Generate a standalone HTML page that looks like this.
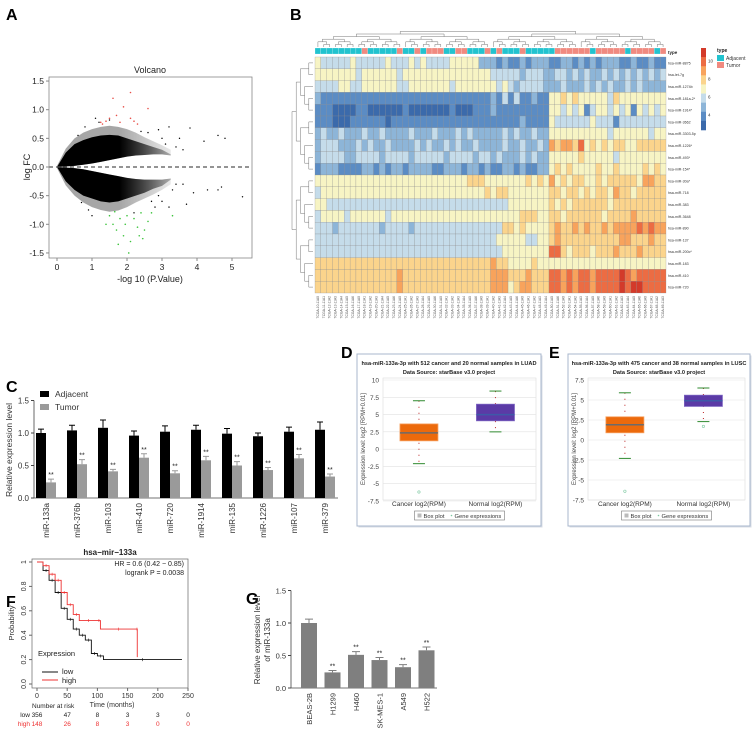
<!DOCTYPE html>
<html><head><meta charset="utf-8">
<style>
html,body{margin:0;padding:0;background:#fff;}
svg{display:block;font-family:"Liberation Sans",Arial,sans-serif;}
</style></head>
<body>
<svg id="fig" width="753" height="729" viewBox="0 0 753 729" xmlns="http://www.w3.org/2000/svg">
<defs>
<linearGradient id="fadeG" x1="0" x2="1" y1="0" y2="0">
<stop offset="0" stop-color="#000" stop-opacity="1"/>
<stop offset="0.55" stop-color="#000" stop-opacity="1"/>
<stop offset="1" stop-color="#000" stop-opacity="0.25"/>
</linearGradient>
</defs>
<g font-weight="bold" font-size="16" fill="#000">
<text x="6" y="20">A</text>
<text x="290" y="20">B</text>
<text x="6" y="392">C</text>
<text x="341" y="358">D</text>
<text x="549" y="358">E</text>
<text x="6" y="607">F</text>
<text x="246" y="604">G</text>
</g>
<g id="volcano"></g>
<g id="heat"></g>
<g id="bars"></g>
<g id="boxD"></g>
<g id="boxE"></g>
<g id="km"></g>
<g id="barsG"></g>
</svg>
<script>
// ---------- Panel A data ----------
const envX=[0,0.25,0.5,0.75,1,1.25,1.5,1.75,2,2.25,2.5,2.75,3,3.25];
const upOuter=[0,.25,.4,.47,.52,.55,.56,.55,.5,.45,.4,.35,.3,.22];
const upInner=[0,.01,.02,.04,.06,.09,.12,.15,.18,.2,.21,.22,.22,.2];
const loOuter=[0,-.25,-.4,-.5,-.55,-.6,-.62,-.6,-.55,-.5,-.45,-.38,-.33,-.22];
const loInner=[0,-.01,-.02,-.04,-.07,-.1,-.13,-.16,-.19,-.21,-.22,-.22,-.22,-.2];
const fuzzUp=[0.02,.32,.5,.6,.66,.7,.72,.7,.66,.6,.52,.45,.38,.3];
const fuzzLo=[-0.02,-.32,-.5,-.62,-.7,-.75,-.78,-.76,-.7,-.62,-.55,-.48,-.4,-.3];
const redX=[1.3,1.4,1.5,1.6,1.9,2.1,2.2,2.1,1.7,1.25,2.6,2.3,1.8];
const redY=[0.75,0.8,0.85,1.2,1.05,0.85,0.8,1.3,0.9,0.78,1.02,0.75,0.78];
const greenX=[1.5,1.6,1.7,1.8,1.9,2.0,2.1,2.2,2.3,2.4,2.5,2.6,1.75,2.05,2.45,2.7,3.3,1.4,1.95,2.35,1.65];
const greenY=[-0.85,-1.0,-1.1,-0.9,-1.2,-0.85,-1.3,-0.9,-1.05,-0.8,-1.1,-0.95,-1.35,-1.5,-1.25,-0.8,-0.85,-1.0,-1.0,-1.2,-0.78];
const blackX=[3.2,3.5,3.8,4.6,4.8,4.2,3.6,3.9,4.3,4.6,4.7,5.3,3.7,3.0,2.8,3.0,2.9,1.1,1.0,3.2,3.4,3.3,2.6,2.7,3.1,2.4,0.8,0.9,1.2,0.7,1.5,2.2,2.9,3.4,3.6,0.6];
const blackY=[0.7,0.5,0.68,0.55,0.5,0.45,-0.3,-0.45,-0.4,-0.4,-0.35,-0.52,-0.65,-0.6,-0.7,0.5,0.65,0.85,-0.85,-0.7,0.35,-0.4,0.6,-0.6,0.4,0.62,0.7,-0.75,0.78,-0.62,0.82,-0.8,-0.5,-0.3,0.3,0.55];
const volXTicks=[0,1,2,3,4,5];
const volYTicks=[-1.5,-1.0,-0.5,0.0,0.5,1.0,1.5];

// ---------- Panel B data ----------
const heatRows=["hsa-miR-8875","hsa-let-7g","hsa-miR-1274b","hsa-miR-181a-2*","hsa-miR-1914*","hsa-miR-3662","hsa-miR-3303-5p","hsa-miR-1226*","hsa-miR-493*","hsa-miR-154*","hsa-miR-30a*","hsa-miR-718","hsa-miR-383","hsa-miR-3648","hsa-miR-890","hsa-miR-137","hsa-miR-200c*","hsa-miR-183","hsa-miR-410","hsa-miR-720"];
const heatLeft=[
"5444445444445444545444455555333232232333",
"5555555455555545555555555555554444434443",
"4444554455555544555555545555555454344443",
"3222222222222222222222222222223242422322",
"2221111221111112111111121112223222222222",
"2221112222221222222222222222222222232222",
"3433433343343333433343334343333343433433",
"3444333434334333343433434334333343343343",
"3444433444434444344444344443443433343433",
"2333222233232332333322333233232233232233",
"5555555555555555555555555566655555556565",
"4555555555555555555555555555565665555555",
"5544444444444444444444444444444445555555",
"4555545555554555555555555555555555566655",
"4443444444434444344444444444444466565555",
"4444444444444444444444444444444555554455",
"4444444444444444444444444444444455555555",
"6666666666666666666666666666667665555655",
"6666666666666676666666666666667776667666",
"6666666666666676666666666666667775677666"];
const heatRight=[
"22332323233322322322",
"34434343343434343434",
"33433343434334343333",
"55656555554655555555",
"55454524554545254545",
"54444445444244444444",
"55555555554555555455",
"76776856565665566666",
"55555655555455555555",
"56565555655655556565",
"75656655656666657766",
"66566565665766566666",
"65656666665666666666",
"66566666656666766666",
"67667676676777787877",
"67666666666677666766",
"88656665666766676666",
"55555555555555555555",
"88787887888898788888",
"88787887888898998888"];
const heatType="AAAAAAAATAAAAATAATATTTAATTAAATATAAATAAAAATTTTTTATTTTTATTTTAT";
const heatTicks=[4,6,8,10];

// ---------- Panel C data ----------
const cCats=["miR-133a","miR-376b","miR-103","miR-410","miR-720","miR-1914","miR-135","miR-1226","miR-107","miR-379"];
const cAdj=[1.0,1.04,1.08,0.96,1.02,1.05,0.99,0.95,1.02,1.05];
const cAdjErr=[0.06,0.08,0.12,0.07,0.09,0.07,0.08,0.05,0.07,0.12];
const cTum=[0.24,0.52,0.41,0.62,0.38,0.58,0.50,0.43,0.61,0.33];
const cTumErr=[0.05,0.07,0.03,0.06,0.04,0.06,0.06,0.04,0.06,0.04];
const cTicks=[0.0,0.5,1.0,1.5];

// ---------- Panel D/E data ----------
const boxCats=["Cancer log2(RPM)","Normal log2(RPM)"];
const dStats=[[-2.1,1.2,2.35,3.65,7.0],[2.5,4.1,5.0,6.5,8.4]];
const dOut=[[-6.2],[]];
const dTicks=[10,7.5,5,2.5,0,-2.5,-5,-7.5];
const eStats=[[-2.3,0.9,1.9,2.9,5.9],[2.3,4.2,4.9,5.6,6.5]];
const eOut=[[-6.4],[1.7]];
const eTicks=[7.5,5,2.5,0,-2.5,-5,-7.5];

// ---------- Panel F data ----------
const lowT=[0,10,20,30,40,50,60,70,80,90,100,110,240];
const lowS=[1,0.93,0.85,0.75,0.62,0.53,0.45,0.40,0.36,0.25,0.23,0.20,0.20];
const highT=[0,10,20,30,40,50,60,70,100,105,165,166];
const highS=[1,0.97,0.90,0.85,0.75,0.65,0.57,0.52,0.52,0.45,0.45,0.22];
const kmXTicks=[0,50,100,150,200,250];
const kmYTicks=[0.0,0.2,0.4,0.6,0.8,1.0];
const riskLow=["356","47","8","3","3","0"];
const riskHigh=["148","26","8","3","0","0"];

// ---------- Panel G data ----------
const gCats=["BEAS-2B","H1299","H460","SK-MES-1","A549","H522"];
const gVals=[1.0,0.24,0.51,0.43,0.32,0.58];
const gErr=[0.06,0.03,0.05,0.04,0.04,0.05];
const gSig=["","**","**","**","**","**"];
const gTicks=[0.0,0.5,1.0,1.5];

const NS="http://www.w3.org/2000/svg";
function mk(parent,tag,attrs,txt){const e=document.createElementNS(NS,tag);for(const k in attrs)e.setAttribute(k,attrs[k]);if(txt!==undefined)e.textContent=txt;parent.appendChild(e);return e;}

// ===== Panel A =====
(function(){
const g=document.getElementById('volcano');
const X=v=>57+v*35, Y=v=>167-v*57.3;
mk(g,'text',{x:150,y:73,'font-size':9,'text-anchor':'middle',fill:'#222'},'Volcano');
function band(outer,inner){
  let p='';
  envX.forEach((x,i)=>{p+=(i?'L':'M')+X(x)+','+Y(outer[i]);});
  for(let i=envX.length-1;i>=0;i--)p+='L'+X(envX[i])+','+Y(inner[i]);
  return p+'Z';
}
const fz=mk(g,'path',{d:band(fuzzUp,upInner)+band(fuzzLo,loInner),fill:'url(#fadeG)',opacity:0.35});


const cloud=mk(g,'path',{d:band(upOuter,upInner)+band(loOuter,loInner),fill:'url(#fadeG)'});


blackX.forEach((x,i)=>{const c=mk(g,'circle',{cx:X(x),cy:Y(blackY[i]),r:0.7,fill:'#000'});

});
redX.forEach((x,i)=>{const c=mk(g,'circle',{cx:X(x),cy:Y(redY[i]),r:0.8,fill:'#e8504a'});

});
greenX.forEach((x,i)=>{const c=mk(g,'circle',{cx:X(x),cy:Y(greenY[i]),r:0.8,fill:'#3cc43c'});

});
mk(g,'line',{x1:49,x2:252,y1:Y(0),y2:Y(0),stroke:'#555','stroke-width':1.2,'stroke-dasharray':'4,3'});
mk(g,'rect',{x:49,y:77,width:203,height:181,fill:'none',stroke:'#888','stroke-width':0.8});
volXTicks.forEach(t=>{mk(g,'line',{x1:X(t),x2:X(t),y1:258,y2:261,stroke:'#888'});
mk(g,'text',{x:X(t),y:270,'font-size':8.5,'text-anchor':'middle',fill:'#222'},String(t));});
volYTicks.forEach(t=>{mk(g,'line',{x1:46,x2:49,y1:Y(t),y2:Y(t),stroke:'#888'});
mk(g,'text',{x:44,y:Y(t)+3,'font-size':8.5,'text-anchor':'end',fill:'#222'},t.toFixed(1));});
mk(g,'text',{x:150,y:282,'font-size':9,'text-anchor':'middle',fill:'#222'},'-log 10 (P.Value)');
mk(g,'text',{x:0,y:0,'font-size':9,'text-anchor':'middle',fill:'#222',transform:'translate(30,167) rotate(-90)'},'log FC');
})();

// ===== Panel B =====
(function(){
const g=document.getElementById('heat');
const x0=315,x1=666,y0=57,y1=293;
const ncol=heatLeft[0].length+heatRight[0].length;
const cw=(x1-x0)/ncol, rh=(y1-y0)/heatRows.length;
const pal={1:'#3b6aab',2:'#5b8cc4',3:'#8db5d8',4:'#c5dcea',5:'#f7f4c4',6:'#fbd48c',7:'#f8a35c',8:'#ec6c43',9:'#d33a2a'};
heatRows.forEach((name,r)=>{
  const s=heatLeft[r]+heatRight[r];
  for(let c=0;c<ncol;c++){
    const v=s[c]||'5';
    const cell=mk(g,'rect',{x:x0+c*cw,y:y0+r*rh,width:cw,height:rh,fill:pal[v],stroke:'#8a8a8a','stroke-width':0.25});
    
    
  }
  mk(g,'text',{x:668,y:y0+r*rh+rh/2+1.5,'font-size':3.6,fill:'#333'},name);
});
for(let c=0;c<ncol;c++){
  const a=mk(g,'rect',{x:x0+c*cw,y:48,width:cw,height:6,fill:heatType[c]==='T'?'#f08a80':'#22c3cf',stroke:'#fff','stroke-width':0.2});
  
  
}
mk(g,'text',{x:668,y:54,'font-size':4.5,'font-weight':'bold',fill:'#222'},'type');
for(let c=0;c<ncol;c++){
  const lbl='TCGA-'+(10+c)+'-11A'+(c%7);
  mk(g,'text',{x:0,y:0,'font-size':3.3,'text-anchor':'end',fill:'#555',transform:'translate('+(x0+c*cw+cw/2+1)+',296) rotate(-90)'},lbl);
}
function dendro(lo,hi,depth,horiz){
  if(hi-lo<=1){return {pos:(lo+0.5),h:0};}
  const mid=Math.floor((lo+hi)/2);
  const a=dendro(lo,mid,depth+1,horiz), b=dendro(mid,hi,depth+1,horiz);
  const h=Math.max(a.h,b.h)+1;
  if(horiz){
    const ax=x0+a.pos*cw, bx=x0+b.pos*cw, hy=47-h*2.6, ay=47-a.h*2.6, by=47-b.h*2.6;
    mk(g,'path',{d:'M'+ax+','+ay+'V'+hy+'H'+bx+'V'+by,fill:'none',stroke:'#777','stroke-width':0.5});
  } else {
    const ay=y0+a.pos*rh, by=y0+b.pos*rh, hx=313-h*4.2, ax=313-a.h*4.2, bx=313-b.h*4.2;
    mk(g,'path',{d:'M'+ax+','+ay+'H'+hx+'V'+by+'H'+bx,fill:'none',stroke:'#777','stroke-width':0.5});
  }
  return {pos:(a.pos+b.pos)/2,h:h};
}
dendro(0,ncol,0,true);
dendro(0,heatRows.length,0,false);
const cb=mk(g,'g',{});
const stops=['#d33a2a','#ec6c43','#f8a35c','#fbd48c','#f7f4c4','#c5dcea','#8db5d8','#5b8cc4','#3b6aab'];
stops.forEach((c,i)=>mk(cb,'rect',{x:701,y:48+i*82/9,width:5,height:82/9+0.3,fill:c}));
const tY=v=>61+(10-v)*9;
heatTicks.forEach(t=>{mk(g,'text',{x:708,y:tY(t)+1.5,'font-size':4.5,fill:'#333'},String(t));});
mk(g,'text',{x:717,y:52,'font-size':5,'font-weight':'bold',fill:'#222'},'type');
mk(g,'rect',{x:717,y:55,width:7,height:6,fill:'#22c3cf'});
mk(g,'text',{x:726,y:60,'font-size':5,fill:'#333'},'Adjacent');
mk(g,'rect',{x:717,y:62,width:7,height:6,fill:'#f08a80'});
mk(g,'text',{x:726,y:67,'font-size':5,fill:'#333'},'Tumor');
})();

// ===== Panel C =====
(function(){
const g=document.getElementById('bars');
const Y=v=>498-v*65, C=i=>46+i*31;
mk(g,'line',{x1:34,x2:34,y1:Y(1.5),y2:Y(0),stroke:'#444','stroke-width':0.8});
mk(g,'line',{x1:34,x2:338,y1:Y(0),y2:Y(0),stroke:'#444','stroke-width':0.8});
cTicks.forEach(t=>{mk(g,'line',{x1:31,x2:34,y1:Y(t),y2:Y(t),stroke:'#444'});
mk(g,'text',{x:29,y:Y(t)+3,'font-size':8,'text-anchor':'end',fill:'#333'},t.toFixed(1));});
mk(g,'text',{x:0,y:0,'font-size':8.5,'text-anchor':'middle',fill:'#333',transform:'translate(12,450) rotate(-90)'},'Relative expression level');
cCats.forEach((cat,i)=>{
  const c=C(i);
  const a=mk(g,'rect',{x:c-10,y:Y(cAdj[i]),width:10,height:Y(0)-Y(cAdj[i]),fill:'#000'});
  
  
  mk(g,'path',{d:'M'+(c-5)+','+Y(cAdj[i])+'V'+Y(cAdj[i]+cAdjErr[i])+'M'+(c-8)+','+Y(cAdj[i]+cAdjErr[i])+'H'+(c-2),stroke:'#000','stroke-width':1});
  const b=mk(g,'rect',{x:c,y:Y(cTum[i]),width:10,height:Y(0)-Y(cTum[i]),fill:'#9a9a9a'});
  
  
  mk(g,'path',{d:'M'+(c+5)+','+Y(cTum[i])+'V'+Y(cTum[i]+cTumErr[i])+'M'+(c+2)+','+Y(cTum[i]+cTumErr[i])+'H'+(c+8),stroke:'#9a9a9a','stroke-width':1});
  mk(g,'text',{x:c+5,y:Y(cTum[i]+cTumErr[i])-2,'font-size':7,'text-anchor':'middle',fill:'#222'},'**');
  mk(g,'text',{x:0,y:0,'font-size':8,'text-anchor':'end',fill:'#333',transform:'translate('+(c+3)+',503) rotate(-90)'},cat);
});
mk(g,'rect',{x:40,y:391,width:9,height:6,fill:'#000'});
mk(g,'text',{x:55,y:397,'font-size':8.5,fill:'#333'},'Adjacent');
mk(g,'rect',{x:40,y:404,width:9,height:6,fill:'#9a9a9a'});
mk(g,'text',{x:55,y:410,'font-size':8.5,fill:'#333'},'Tumor');
})();

// ===== Panels D/E =====
function boxPanel(id,fx0,fx1,px0,px1,ticks,yTop,yBot,stats,outs,t1){
  const g=document.getElementById(id);
  const fy0=354,fy1=526;
  mk(g,'rect',{x:fx0+1.5,y:fy0+1.5,width:fx1-fx0,height:fy1-fy0,fill:'#d8dde6'});
  mk(g,'rect',{x:fx0,y:fy0,width:fx1-fx0,height:fy1-fy0,fill:'#fff',stroke:'#a8b7cc','stroke-width':1});
  const py0=378,py1=500;
  const tmax=ticks[0],tmin=ticks[ticks.length-1];
  const Y=v=>yTop+(tmax-v)*(yBot-yTop)/(tmax-tmin);
  mk(g,'text',{x:(fx0+fx1)/2,y:365,'font-size':5.6,'font-weight':'bold','text-anchor':'middle',fill:'#222'},t1);
  mk(g,'text',{x:(fx0+fx1)/2,y:374,'font-size':5.6,'font-weight':'bold','text-anchor':'middle',fill:'#222'},'Data Source: starBase v3.0 project');
  mk(g,'rect',{x:px0,y:py0,width:px1-px0,height:py1-py0,fill:'#fff',stroke:'#ddd','stroke-width':0.6});
  ticks.forEach(t=>{
    mk(g,'line',{x1:px0,x2:px1,y1:Y(t),y2:Y(t),stroke:'#e2e2e2','stroke-width':0.6});
    mk(g,'text',{x:px0-4,y:Y(t)+2.5,'font-size':6.5,'text-anchor':'end',fill:'#444'},String(t));
  });
  mk(g,'text',{x:0,y:0,'font-size':6,'text-anchor':'middle',fill:'#444',transform:'translate('+(fx0+8)+','+((py0+py1)/2)+') rotate(-90)'},'Expression level: log2 [RPM+0.01]');
  const W=px1-px0;
  stats.forEach((s,i)=>{
    const cx=px0+W*(i===0?0.235:0.735);
    const bw=38;
    mk(g,'line',{x1:cx,x2:cx,y1:Y(s[4]),y2:Y(s[0]),stroke:'#b22','stroke-width':1,'stroke-dasharray':'1,5'});
    const b=mk(g,'rect',{x:cx-bw/2,y:Y(s[3]),width:bw,height:Y(s[1])-Y(s[3]),fill:i===0?'#ec6a0c':'#5b3aa6',stroke:i===0?'#f7a060':'#7a62c0','stroke-width':0.8});
    
    
    mk(g,'line',{x1:cx-bw/2,x2:cx+bw/2,y1:Y(s[2]),y2:Y(s[2]),stroke:i===0?'#6b6b6b':'#3d5aa8','stroke-width':1.5});
    [s[0],s[4]].forEach(w=>mk(g,'line',{x1:cx-6,x2:cx+6,y1:Y(w),y2:Y(w),stroke:'#2f8a2f','stroke-width':1}));
    outs[i].forEach(o=>mk(g,'circle',{cx:cx,cy:Y(o),r:1.2,fill:'none',stroke:'#7cc8a0','stroke-width':0.6}));
    mk(g,'text',{x:cx,y:506,'font-size':6.5,'text-anchor':'middle',fill:'#333'},boxCats[i]);
  });
  const lx=(px0+px1)/2-45;
  mk(g,'rect',{x:lx,y:511,width:90,height:9,fill:'#fff',stroke:'#777','stroke-width':0.6});
  mk(g,'rect',{x:lx+3,y:513.5,width:4,height:4,fill:'#bbb'});
  mk(g,'text',{x:lx+9,y:518,'font-size':5.8,fill:'#333'},'Box plot');
  mk(g,'circle',{cx:lx+37,cy:515.5,r:0.8,fill:'#7cc8a0'});
  mk(g,'text',{x:lx+40,y:518,'font-size':5.8,fill:'#333'},'Gene expressions');
}
boxPanel('boxD',357,541,383,536,dTicks,380,501,dStats,dOut,'hsa-miR-133a-3p with 512 cancer and 20 normal samples in LUAD');
boxPanel('boxE',568,750,588,745,eTicks,380,500,eStats,eOut,'hsa-miR-133a-3p with 475 cancer and 38 normal samples in LUSC');

// ===== Panel F =====
(function(){
const g=document.getElementById('km');
const X=t=>37+t*0.604, Y=s=>684-s*122;
mk(g,'rect',{x:32,y:559,width:156,height:129,fill:'none',stroke:'#666','stroke-width':0.7});
mk(g,'text',{x:110,y:555,'font-size':8,'font-weight':'bold','text-anchor':'middle',fill:'#222'},'hsa\u2212mir\u2212133a');
kmXTicks.forEach(t=>{mk(g,'line',{x1:X(t),x2:X(t),y1:688,y2:691,stroke:'#666'});
mk(g,'text',{x:X(t),y:698,'font-size':7,'text-anchor':'middle',fill:'#333'},String(t));});
kmYTicks.forEach(t=>{mk(g,'line',{x1:29,x2:32,y1:Y(t),y2:Y(t),stroke:'#666'});
mk(g,'text',{x:0,y:0,'font-size':7,'text-anchor':'middle',fill:'#333',transform:'translate(26,'+Y(t)+') rotate(-90)'},t===1?'1':t.toFixed(1));});
mk(g,'text',{x:0,y:0,'font-size':7.5,'text-anchor':'middle',fill:'#333',transform:'translate(14,623) rotate(-90)'},'Probability');
mk(g,'text',{x:112,y:707,'font-size':7,'text-anchor':'middle',fill:'#333'},'Time (months)');
function step(T,S,col,name){
  let d='M'+X(T[0])+','+Y(S[0]);
  for(let i=1;i<T.length;i++){d+='H'+X(T[i])+'V'+Y(S[i]);}
  const p=mk(g,'path',{d:d,fill:'none',stroke:col,'stroke-width':0.9});
  
  
  for(let i=1;i<T.length-1;i++){const tx=(T[i]+T[i+1])/2;mk(g,'line',{x1:X(tx),x2:X(tx),y1:Y(S[i])-1.5,y2:Y(S[i])+1.5,stroke:col,'stroke-width':0.6});}
}
step(lowT,lowS,'#111','km-curve-low');
step(highT,highS,'#e33','km-curve-high');
mk(g,'text',{x:184,y:566,'font-size':7,'text-anchor':'end',fill:'#222'},'HR = 0.6 (0.42 \u2212 0.85)');
mk(g,'text',{x:184,y:575,'font-size':7,'text-anchor':'end',fill:'#222'},'logrank P = 0.0038');
mk(g,'text',{x:38,y:656,'font-size':7.5,fill:'#222'},'Expression');
mk(g,'line',{x1:42,x2:58,y1:672,y2:672,stroke:'#111'});
mk(g,'text',{x:62,y:674,'font-size':7.5,fill:'#222'},'low');
mk(g,'line',{x1:42,x2:58,y1:680,y2:680,stroke:'#e33'});
mk(g,'text',{x:62,y:683,'font-size':7.5,fill:'#222'},'high');
mk(g,'text',{x:32,y:708,'font-size':6.5,fill:'#222'},'Number at risk');
mk(g,'text',{x:30,y:717,'font-size':6.5,'text-anchor':'end',fill:'#222'},'low');
mk(g,'text',{x:30,y:726,'font-size':6.5,'text-anchor':'end',fill:'#e33'},'high');
kmXTicks.forEach((t,i)=>{
  mk(g,'text',{x:X(t),y:717,'font-size':6.5,'text-anchor':'middle',fill:'#222'},riskLow[i]);
  mk(g,'text',{x:X(t),y:726,'font-size':6.5,'text-anchor':'middle',fill:'#e33'},riskHigh[i]);
});
})();

// ===== Panel G =====
(function(){
const g=document.getElementById('barsG');
const Y=v=>688-v*65, C=i=>309+i*23.5;
mk(g,'line',{x1:291,x2:291,y1:Y(1.5),y2:Y(0),stroke:'#444','stroke-width':0.8});
mk(g,'line',{x1:291,x2:437,y1:Y(0),y2:Y(0),stroke:'#444','stroke-width':0.8});
gTicks.forEach(t=>{mk(g,'line',{x1:288,x2:291,y1:Y(t),y2:Y(t),stroke:'#444'});
mk(g,'text',{x:286,y:Y(t)+3,'font-size':7.5,'text-anchor':'end',fill:'#333'},t.toFixed(1));});
mk(g,'text',{x:0,y:0,'font-size':8,'text-anchor':'middle',fill:'#333',transform:'translate(260,640) rotate(-90)'},'Relative expression level');
mk(g,'text',{x:0,y:0,'font-size':8,'text-anchor':'middle',fill:'#333',transform:'translate(270,640) rotate(-90)'},'of miR-133a');
gCats.forEach((cat,i)=>{
  const c=C(i);
  const b=mk(g,'rect',{x:c-8,y:Y(gVals[i]),width:16,height:Y(0)-Y(gVals[i]),fill:'#7f7f7f'});
  
  
  mk(g,'path',{d:'M'+c+','+Y(gVals[i])+'V'+Y(gVals[i]+gErr[i])+'M'+(c-4)+','+Y(gVals[i]+gErr[i])+'H'+(c+4),stroke:'#7f7f7f','stroke-width':1});
  if(gSig[i])mk(g,'text',{x:c,y:Y(gVals[i]+gErr[i])-2,'font-size':7,'text-anchor':'middle',fill:'#222'},gSig[i]);
  mk(g,'text',{x:0,y:0,'font-size':7.5,'text-anchor':'end',fill:'#333',transform:'translate('+(c+3)+',693) rotate(-90)'},cat);
});
})();
</script>
</body></html>
